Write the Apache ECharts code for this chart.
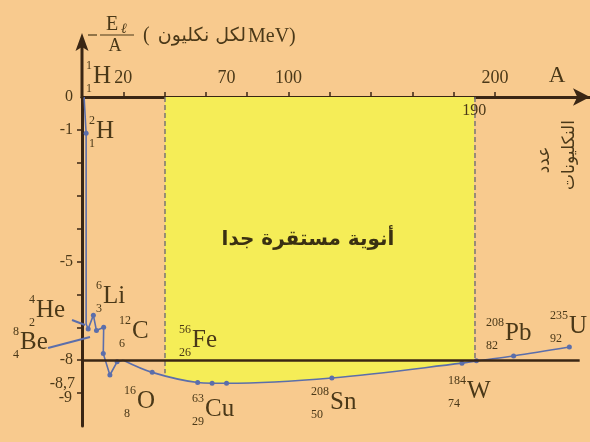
<!DOCTYPE html>
<html>
<head>
<meta charset="utf-8">
<script src="https://cdn.jsdelivr.net/npm/echarts@6/dist/echarts.min.js"></script>
<style>
  html, body { margin: 0; padding: 0; background: #f8ca8e; }
  #chart { width: 590px; height: 442px; }
</style>
</head>
<body>
<div id="chart"></div>
<script>
// Binding energy per nucleon (-E/A, MeV) against mass number A
const lightA   = [1, 2, 2, 3, 5.5, 7, 10.5, 10.3, 13.5, 17, 20];
const lightE   = [0, -1.1, -6.9, -7.05, -6.63, -7.1, -7.0, -7.8, -8.45, -8.05, -8.0];
const lightDot = [false, true, false, true, true, true, true, true, true, true, false];

const heavyA   = [20, 34, 56, 63, 70, 121, 184, 191, 209, 236];
const heavyE   = [-8.0, -8.37, -8.68, -8.7, -8.7, -8.54, -8.09, -8.02, -7.87, -7.6];
const heavyDot = [false, true, true, true, true, true, true, true, true, true];

// band of very stable nuclei and where its dashed limits meet the curve
const stableBand = [40, 190];
const bandFloor  = [-8.4, -8.02];
const referenceLevel = -8;
const referenceSpan  = [0, 241];

// axis ticks and labels
const xTickValues  = [20, 40, 60, 80, 100, 120, 140, 160, 180, 200];
const xLabelValues = [20, 70, 100, 200];
const yTickValues  = [-1, -2, -3, -4, -5, -6, -7, -8, -9];
const yLabelValues = [0, -1, -5, -8];
const yCrowdedLabels = [-8.7, -9];   // drawn apart so they do not collide

// nuclides named on the curve
const nuclideSymbol = ['H', 'H', 'Li', 'He', 'Be', 'C', 'Fe', 'O', 'Cu', 'Sn', 'W', 'Pb', 'U'];
const nuclideMass   = [1, 2, 6, 4, 8, 12, 56, 16, 63, 208, 184, 208, 235];
const nuclideCharge = [1, 1, 3, 2, 4, 6, 26, 8, 29, 50, 74, 82, 92];

// where each nuclide name sits (left edge of the element symbol, its middle)
const labelSpots = [[93, 76], [96, 131], [103, 296], [36, 310], [20, 342], [132, 331],
                    [192, 340], [137, 401], [205, 409], [330, 402], [467, 391], [505, 333], [569, 326]];

const INK = '#3a2614';
const TEXT = '#4a3818';
const CURVE = '#5b6eab';
const SERIF = '"Liberation Serif", "DejaVu Serif", serif';
const ARABIC = '"DejaVu Sans", sans-serif';

function pairs(xs, ys, dots) {
  return xs.map((x, i) => ({ value: [x, ys[i]], symbolSize: dots[i] ? 5 : 0 }));
}

const graphics = [];
function addText(x, y, text, font, fill, align, extra) {
  graphics.push(Object.assign({ type: 'text', x: x, y: y, z: 100, silent: true,
    style: { text: text, font: font, fill: fill, align: align, verticalAlign: 'middle' } }, extra || {}));
}
function addLine(x1, y1, x2, y2, stroke, width) {
  graphics.push({ type: 'line', z: 100, silent: true, shape: { x1, y1, x2, y2 },
    style: { stroke: stroke, lineWidth: width } });
}

// nuclide names with mass number above and atomic number below
nuclideSymbol.forEach((sym, i) => {
  const [x, y] = labelSpots[i];
  const mass = String(nuclideMass[i]);
  const charge = String(nuclideCharge[i]);
  const left = x - 1 - 6 * mass.length;
  addText(x, y, sym, '25px ' + SERIF, TEXT, 'left');
  addText(left, y - 10, mass, '12px ' + SERIF, TEXT, 'left');
  addText(left, y + 13, charge, '12px ' + SERIF, TEXT, 'left');
});

// pointers from He and Be to the curve
addLine(72, 320, 85, 325, CURVE, 2);
addLine(48, 348, 90, 337, CURVE, 2);

// upper part of the vertical axis with its arrow head
addLine(82, 98, 82, 46, INK, 3);
graphics.push({ type: 'polygon', z: 100, silent: true,
  shape: { points: [[82, 33], [88.5, 51], [82, 47], [75.5, 51]] },
  style: { fill: INK } });

// vertical axis title: -E_l / A (MeV per nucleon)
addLine(88, 35, 97, 35, TEXT, 1.2);
addLine(100, 35, 134, 35, TEXT, 1.2);
addText(106, 25, 'E', '20px ' + SERIF, TEXT, 'left');
addText(121, 29, 'ℓ', 'italic 14px ' + SERIF, TEXT, 'left');
addText(115, 46, 'A', '18px ' + SERIF, TEXT, 'center');
addText(143, 36, '(', '20px ' + SERIF, TEXT, 'left');
addText(246, 36, 'لكل نكليون', '19px ' + ARABIC, TEXT, 'right');
addText(248, 37, 'MeV)', '20px ' + SERIF, TEXT, 'left');

// horizontal axis title
addText(557, 76, 'A', '23px ' + SERIF, TEXT, 'center');
addText(545, 160, 'عدد', '17px ' + ARABIC, TEXT, 'center', { rotation: Math.PI / 2 });
addText(570, 155, 'النكليونات', '17px ' + ARABIC, TEXT, 'center', { rotation: Math.PI / 2 });

// band caption
addText(308, 240, 'أنوية مستقرة جدا', 'bold 20px ' + ARABIC, '#3a3012', 'center');

const chart = echarts.init(document.getElementById('chart'), null, { renderer: 'canvas' });

const option = {
  backgroundColor: '#f8ca8e',
  animation: false,
  grid: { left: 82, right: 0, top: 97, bottom: 16, containLabel: false },
  xAxis: {
    type: 'value', position: 'top', min: 0, max: 246,
    axisLine: { show: true, onZero: false, symbol: ['none', 'arrow'], symbolSize: [13, 17],
      lineStyle: { color: INK, width: 3 } },
    axisTick: { show: true, customValues: xTickValues, length: 5, lineStyle: { color: INK, width: 1.5 } },
    axisLabel: { show: true, customValues: xLabelValues, margin: 10, color: TEXT,
      fontFamily: SERIF, fontSize: 18 },
    splitLine: { show: false }
  },
  yAxis: {
    type: 'value', min: -10, max: 0,
    axisLine: { show: true, onZero: false, lineStyle: { color: INK, width: 3 } },
    axisTick: { show: true, customValues: yTickValues, length: 5, lineStyle: { color: INK, width: 1.5 } },
    axisLabel: { show: true, customValues: yLabelValues, margin: 9, color: TEXT,
      fontFamily: SERIF, fontSize: 16, showMinLabel: true, showMaxLabel: true, hideOverlap: false },
    splitLine: { show: false }
  },
  visualMap: {
    type: 'piecewise', show: false, seriesIndex: 0, dimension: 0,
    pieces: [
      { lt: stableBand[0], color: 'rgba(0,0,0,0)' },
      { gte: stableBand[0], lte: stableBand[1], color: '#f5ed57' },
      { gt: stableBand[1], color: 'rgba(0,0,0,0)' }
    ]
  },
  series: [
    {
      // yellow band between the zero axis and the curve
      type: 'line', silent: true, z: 1, smooth: 0.35, symbol: 'none',
      data: heavyA.map((a, i) => [a, heavyE[i]]),
      lineStyle: { width: 0, opacity: 0 },
      areaStyle: { opacity: 1, origin: 0 },
      markLine: {
        silent: true, symbol: 'none', label: { show: false },
        lineStyle: { color: '#7a7772', type: [5, 3], width: 1.5 },
        data: stableBand.map((a, i) => [{ coord: [a, 0] }, { coord: [a, bandFloor[i]] }])
      }
    },
    {
      type: 'line', silent: true, z: 3, symbol: 'circle',
      data: pairs(lightA, lightE, lightDot),
      lineStyle: { color: CURVE, width: 1.6 },
      itemStyle: { color: CURVE },
      markLine: {
        silent: true, symbol: 'none', label: { show: false },
        lineStyle: { color: INK, type: 'solid', width: 2.5 },
        data: [[{ coord: [referenceSpan[0], referenceLevel] }, { coord: [referenceSpan[1], referenceLevel] }]]
      }
    },
    {
      type: 'line', silent: true, z: 3, symbol: 'circle', smooth: 0.35,
      data: pairs(heavyA, heavyE, heavyDot),
      lineStyle: { color: CURVE, width: 1.6 },
      itemStyle: { color: CURVE }
    }
  ],
  graphic: graphics
};
chart.setOption(option);

// labels tied to axis values: the crowded tick labels near -9 and the upper band limit
yCrowdedLabels.forEach((v, i) => {
  const p = chart.convertToPixel({ gridIndex: 0 }, [0, v]);
  addText(p[0] - (i === 0 ? 7 : 10), p[1] + (i === 0 ? 1 : 5),
    String(v).replace('.', ','), '16px ' + SERIF, TEXT, 'right');
});
const bandTop = chart.convertToPixel({ gridIndex: 0 }, [stableBand[1], 0]);
addText(bandTop[0], bandTop[1] + 14, String(stableBand[1]), '16px ' + SERIF, TEXT, 'center');
chart.setOption({ graphic: graphics });
</script>
</body>
</html>
